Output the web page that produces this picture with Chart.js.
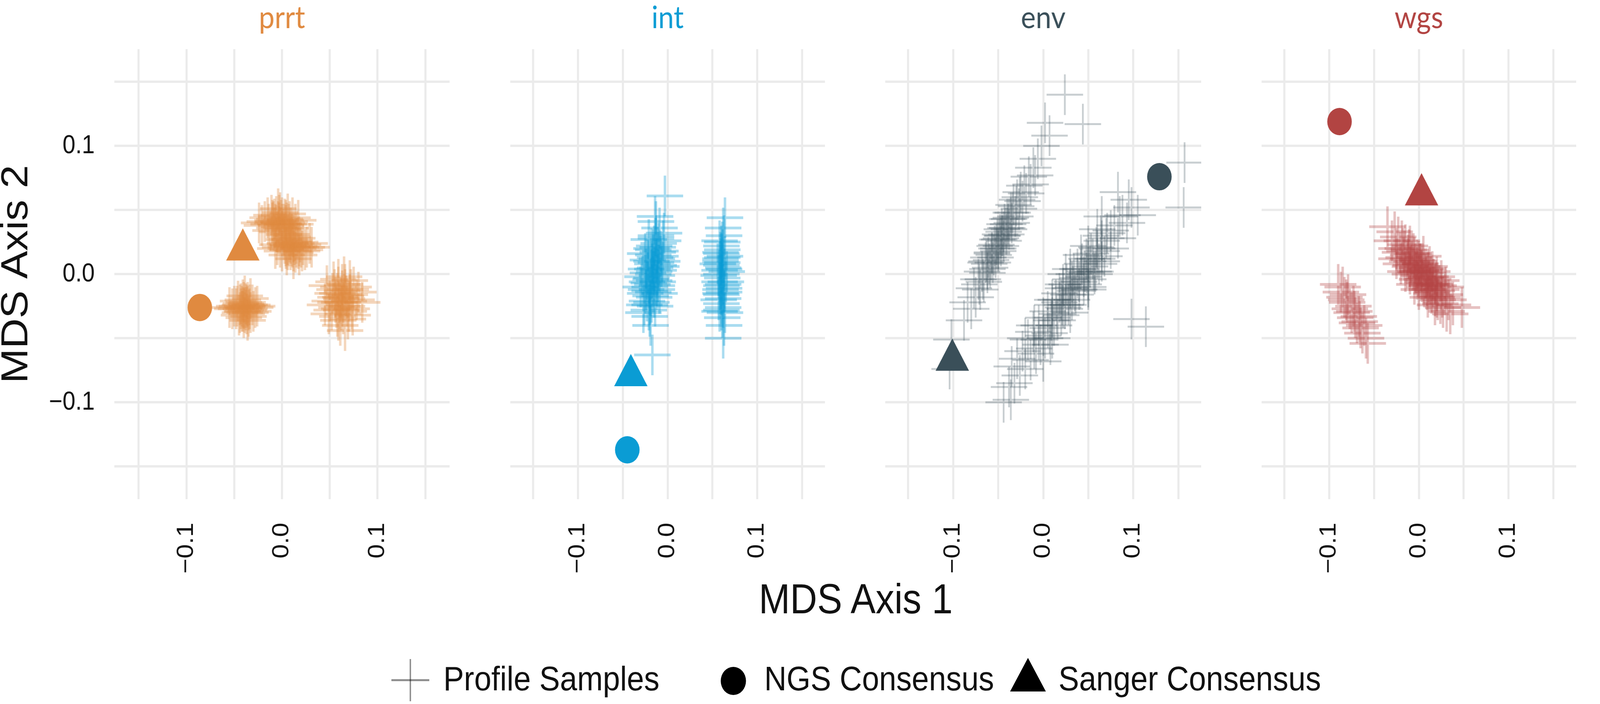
<!DOCTYPE html>
<html>
<head>
<meta charset="utf-8">
<script src="https://cdn.jsdelivr.net/npm/chart.js@4/dist/chart.umd.min.js"></script>
<style>
  html, body { margin: 0; padding: 0; background: #fff; overflow: hidden; }
  #stage { position: relative; width: 4562px; height: 1801px; transform-origin: 0 0;
           font-family: 'Liberation Sans', Arial, sans-serif; color: #111; background: #fff; }
  .panel { position: absolute; top: 0; height: 1480px; }
  #xTitle { position: absolute; left: 326px; width: 4228px; top: 1479px; text-align: center;
            font-size: 107px; line-height: 1; }
  .legText { position: absolute; top: 1692px; font-size: 88px; line-height: 1; white-space: nowrap; }
  .legKey { position: absolute; }
</style>
</head>
<body>
<div id="stage">
  <div class="panel" id="panel0" style="left:0px;width:1341px"><canvas></canvas></div>
  <div class="panel" id="panel1" style="left:1396px;width:1015px"><canvas></canvas></div>
  <div class="panel" id="panel2" style="left:2467px;width:1015px"><canvas></canvas></div>
  <div class="panel" id="panel3" style="left:3538px;width:1015px"><canvas></canvas></div>

  <div id="xTitle">MDS Axis 1</div>

  <svg class="legKey" style="left:1116px;top:1686px" width="108" height="108">
    <line x1="0" y1="54" x2="108" y2="54" stroke="rgba(0,0,0,0.45)" stroke-width="5"/>
    <line x1="54" y1="0" x2="54" y2="108" stroke="rgba(0,0,0,0.45)" stroke-width="4"/>
  </svg>
  <div class="legText" style="left:1264px">Profile Samples</div>
  <svg class="legKey" style="left:2054px;top:1705px" width="74" height="74">
    <circle cx="37" cy="37" r="36" fill="#000"/>
  </svg>
  <div class="legText" style="left:2179px">NGS Consensus</div>
  <svg class="legKey" style="left:2880px;top:1683px" width="102" height="86">
    <polygon points="51,0 102,86 0,86" fill="#000"/>
  </svg>
  <div class="legText" style="left:3018px">Sanger Consensus</div>
</div>

<script>
// the window may be narrower than the 4562px figure: squeeze horizontally to fit
const stage = document.getElementById('stage');
const sx = Math.min(1, window.innerWidth / 4562);
stage.style.transform = `scale(${sx}, 1)`;

// facets, left to right
const genes = ['prrt', 'int', 'env', 'wgs'];
const geneColors = ['#e08a40', '#0a9cd4', '#3a4f59', '#b24442'];

// consensus positions per facet
const ngsX = [-0.086, -0.045, 0.129, -0.0885];
const ngsY = [-0.026, -0.137, 0.076, 0.119];
const sangerX = [-0.041, -0.041, -0.101, 0.003];
const sangerY = [0.019, -0.079, -0.067, 0.062];

// axis breaks
const gridBreaks = [-0.15, -0.1, -0.05, 0, 0.05, 0.1, 0.15];
const tickValues = [-0.1, 0, 0.1];
const tickText = ['\u22120.1', '0.0', '0.1'];

// profile samples
const prrtSamples = [
  [-0.003,0.040],[-0.010,0.042],[0.004,0.038],[-0.006,0.045],[0.001,0.035],[-0.014,0.039],[0.008,0.041],
  [-0.002,0.048],[-0.008,0.036],[0.011,0.044],[-0.018,0.041],[0.003,0.043],[-0.005,0.033],[0.006,0.047],
  [-0.011,0.046],[0.000,0.039],[-0.021,0.038],[0.014,0.039],[-0.004,0.051],[-0.009,0.041],[0.002,0.031],
  [0.009,0.036],[-0.015,0.044],[-0.001,0.042],[0.005,0.040],[-0.007,0.039],[-0.012,0.034],[0.017,0.042],
  [-0.003,0.037],[-0.024,0.040],
  [-0.004,0.041],[0.002,0.039],[-0.008,0.043],[0.000,0.044],[-0.006,0.038],[0.004,0.042],[-0.001,0.036],
  [-0.010,0.040],[0.007,0.039],[-0.003,0.046],
  [0.010,0.022],[0.003,0.024],[0.017,0.020],[0.008,0.027],[0.014,0.017],[-0.002,0.021],[0.022,0.023],
  [0.006,0.019],[0.011,0.029],[0.019,0.025],[0.000,0.018],[0.013,0.023],[0.026,0.021],[0.005,0.015],
  [0.009,0.024],[0.016,0.028],[-0.005,0.023],[0.012,0.012],[0.021,0.018],[0.007,0.022],[0.029,0.024],
  [0.002,0.027],[0.015,0.021],[0.010,0.031],[-0.007,0.020],[0.018,0.015],[0.012,0.025],[0.024,0.019],
  [0.004,0.022],[0.031,0.021],
  [0.011,0.021],[0.006,0.023],[0.015,0.024],[0.009,0.019],[0.013,0.026],[0.004,0.020],[0.018,0.022],
  [0.008,0.025],[0.012,0.018],[0.020,0.021],
  [-0.039,-0.026],[-0.044,-0.024],[-0.034,-0.027],[-0.041,-0.020],[-0.037,-0.031],[-0.048,-0.027],
  [-0.031,-0.024],[-0.042,-0.029],[-0.036,-0.022],[-0.045,-0.032],[-0.028,-0.026],[-0.040,-0.034],
  [-0.050,-0.025],[-0.033,-0.019],[-0.038,-0.028],[-0.043,-0.023],[-0.035,-0.033],[-0.046,-0.021],
  [-0.030,-0.029],[-0.039,-0.017],[-0.052,-0.027],[-0.041,-0.026],[-0.036,-0.036],[-0.026,-0.025],
  [-0.044,-0.030],[-0.037,-0.024],[-0.033,-0.030],[-0.047,-0.025],[-0.040,-0.022],[-0.055,-0.026],
  [-0.040,-0.027],[-0.036,-0.025],[-0.042,-0.025],[-0.038,-0.023],[-0.041,-0.029],[-0.035,-0.028],
  [-0.043,-0.027],[-0.037,-0.026],[-0.039,-0.030],[-0.034,-0.024],
  [0.062,-0.019],[0.055,-0.012],[0.068,-0.025],[0.059,-0.004],[0.071,-0.016],[0.050,-0.021],[0.064,-0.031],
  [0.057,-0.026],[0.075,-0.010],[0.066,-0.008],[0.053,-0.015],[0.069,-0.035],[0.060,-0.022],[0.078,-0.020],
  [0.047,-0.009],[0.063,-0.013],[0.058,-0.033],[0.073,-0.027],[0.065,-0.002],[0.052,-0.028],[0.080,-0.014],
  [0.061,-0.040],[0.056,-0.018],[0.070,-0.021],[0.045,-0.024],[0.067,-0.017],[0.059,-0.010],[0.074,-0.032],
  [0.063,-0.025],[0.084,-0.022],[0.054,-0.006],[0.066,-0.044],[0.049,-0.031],[0.071,-0.005],[0.062,-0.028],
  [0.061,-0.018],[0.064,-0.022],[0.058,-0.015],[0.066,-0.012],[0.060,-0.027],[0.068,-0.019],[0.056,-0.022],
  [0.063,-0.008],[0.070,-0.029],[0.065,-0.016],[0.059,-0.036],[0.072,-0.012]
];

const intSamples = [
  [-0.016,0.000],[-0.012,0.012],[-0.020,-0.010],[-0.010,0.024],[-0.023,-0.021],[-0.014,0.005],[-0.019,-0.004],
  [-0.008,0.018],[-0.025,-0.015],[-0.013,0.030],[-0.021,-0.028],[-0.017,0.008],[-0.011,-0.006],[-0.028,-0.002],
  [-0.006,0.010],[-0.018,0.020],[-0.015,-0.018],[-0.024,0.004],[-0.009,0.036],[-0.020,-0.033],[-0.012,-0.012],
  [-0.026,-0.024],[-0.005,0.026],[-0.016,0.015],[-0.022,0.011],[-0.014,-0.025],[-0.010,0.003],[-0.030,-0.010],
  [-0.013,0.041],[-0.019,-0.040],[-0.007,0.006],[-0.023,-0.006],[-0.015,0.022],[-0.017,-0.008],[-0.011,0.017],
  [-0.027,-0.030],[-0.004,0.032],[-0.021,0.027],[-0.018,-0.022],[-0.012,-0.001],[-0.003,0.061],[-0.017,-0.063],
  [-0.025,0.016],[-0.009,-0.015],[-0.014,0.045],
  [-0.015,0.002],[-0.018,-0.003],[-0.013,0.009],[-0.020,-0.013],[-0.016,0.019],[-0.012,-0.009],[-0.022,0.001],
  [-0.014,0.013],[-0.019,-0.017],[-0.010,0.007],[-0.017,0.004],[-0.021,-0.007],[-0.011,0.021],[-0.024,-0.012],
  [-0.015,-0.005],[-0.008,0.014],[-0.018,0.010],[-0.020,-0.024],[-0.013,0.028],[-0.016,-0.014],
  [0.061,-0.003],[0.059,0.010],[0.063,-0.014],[0.060,0.022],[0.062,-0.026],[0.058,0.003],[0.064,0.014],
  [0.060,-0.009],[0.057,-0.020],[0.063,0.030],[0.061,-0.034],[0.059,0.017],[0.065,-0.006],[0.056,0.008],
  [0.062,0.005],[0.060,-0.016],[0.064,-0.030],[0.058,0.026],[0.061,0.013],[0.063,-0.040],[0.057,-0.001],
  [0.062,0.036],[0.060,-0.023],[0.066,0.002],[0.059,-0.012],[0.061,0.019],[0.064,0.044],[0.062,-0.050],
  [0.058,-0.029],[0.060,0.007],
  [0.060,0.000],[0.062,-0.008],[0.061,0.009],[0.059,-0.015],[0.063,0.004],[0.060,0.016],[0.062,-0.019],
  [0.058,-0.006],[0.061,0.025],[0.063,-0.011],[0.060,-0.028],[0.059,0.012]
];

const envSamples = [
  [-0.084,-0.022],[-0.080,-0.027],[-0.077,-0.011],[-0.075,-0.018],[-0.072,-0.004],[-0.070,-0.012],[-0.068,0.002],
  [-0.066,-0.006],[-0.064,0.009],[-0.062,0.001],[-0.061,0.013],[-0.059,0.005],[-0.057,0.017],[-0.056,0.009],
  [-0.054,0.022],[-0.053,0.013],[-0.051,0.027],[-0.050,0.018],[-0.048,0.031],[-0.047,0.022],[-0.046,0.035],
  [-0.044,0.026],[-0.043,0.039],[-0.041,0.031],[-0.040,0.043],[-0.038,0.035],[-0.036,0.048],[-0.035,0.040],
  [-0.033,0.054],[-0.031,0.045],[-0.029,0.058],[-0.027,0.051],[-0.025,0.064],[-0.023,0.057],[-0.021,0.069],
  [-0.019,0.063],[-0.016,0.076],[-0.014,0.070],[-0.011,0.083],[-0.009,0.077],[-0.006,0.090],[-0.052,0.020],
  [-0.045,0.030],[-0.039,0.039],[-0.060,0.008],
  [-0.049,0.027],[-0.055,0.015],[-0.042,0.036],[-0.058,0.011],[-0.046,0.030],[-0.062,0.004],[-0.038,0.043],
  [-0.052,0.023],[-0.067,-0.004],[-0.034,0.048],[-0.044,0.033],[-0.057,0.016],[-0.030,0.053],[-0.071,-0.008],
  [-0.040,0.036],[-0.050,0.020],[-0.026,0.060],[-0.063,0.010],[-0.047,0.028],[-0.036,0.044],
  [0.002,0.118],[0.007,0.108],[-0.002,0.100],[0.024,0.140],[0.044,0.117],[-0.102,-0.051],[-0.104,-0.074],
  [-0.088,-0.036],
  [-0.038,-0.088],[-0.035,-0.072],[-0.032,-0.085],[-0.029,-0.066],[-0.026,-0.079],[-0.023,-0.060],[-0.020,-0.074],
  [-0.017,-0.051],[-0.014,-0.067],[-0.011,-0.045],[-0.008,-0.062],[-0.005,-0.040],[-0.003,-0.055],[0.000,-0.034],
  [0.002,-0.050],[0.005,-0.029],[0.007,-0.046],[0.010,-0.024],[0.012,-0.040],[0.014,-0.020],[0.016,-0.036],
  [0.018,-0.015],[0.020,-0.032],[0.022,-0.011],[0.024,-0.027],[0.026,-0.008],[0.028,-0.024],[0.030,-0.004],
  [0.032,-0.020],[0.034,0.000],[0.036,-0.016],[0.038,0.004],[0.040,-0.012],[0.043,0.008],[0.045,-0.008],
  [0.048,0.012],[0.050,-0.004],[0.053,0.016],[0.056,0.002],[0.059,0.021],[0.062,0.008],[0.065,0.026],
  [0.068,0.014],[0.071,0.032],[0.075,0.020],[0.079,0.038],[0.083,0.028],[0.088,0.046],[0.093,0.040],
  [0.098,0.052],[0.021,-0.024],[0.009,-0.036],[-0.010,-0.058],[0.033,-0.010],[0.046,0.002],[0.060,0.012],
  [0.040,-0.006],[0.030,-0.011],[0.050,0.010],[0.025,-0.024],[0.045,-0.002],[0.020,-0.020],[0.055,0.012],
  [0.015,-0.031],[0.035,-0.013],[0.060,0.020],[0.010,-0.034],[0.048,0.001],[0.005,-0.042],[0.065,0.018],
  [0.028,-0.016],[0.070,0.028],[0.000,-0.048],[0.038,-0.003],[0.022,-0.026],[0.052,0.006],[-0.005,-0.051],
  [0.075,0.034],[0.042,0.004],[0.018,-0.022],[0.032,-0.006],[0.050,-0.012],[0.030,0.004],[0.010,-0.050],
  [0.064,0.030],[0.058,0.002],
  [0.025,0.000],[0.050,-0.010],[0.010,-0.020],[0.030,-0.030],[0.065,0.010],[0.042,0.015],[-0.010,-0.040],
  [0.008,-0.055],[0.085,0.045],[0.060,0.035],[0.000,-0.068],[-0.020,-0.050],[0.057,0.000],[0.050,0.022],
  [0.022,-0.008],[0.065,0.045],
  [-0.044,-0.100],[-0.036,-0.098],[0.114,-0.041],[0.098,-0.035],[0.083,0.064],[0.095,0.058],[0.105,0.046],
  [0.157,0.087],[0.156,0.052]
];

const wgsSamples = [
  [-0.030,0.026],[-0.027,0.033],[-0.025,0.020],[-0.023,0.029],[-0.021,0.017],[-0.019,0.026],[-0.017,0.013],
  [-0.015,0.023],[-0.013,0.010],[-0.011,0.019],[-0.009,0.007],[-0.008,0.016],[-0.006,0.004],[-0.005,0.013],
  [-0.003,0.001],[-0.002,0.011],[0.000,-0.001],[0.001,0.008],[0.003,-0.004],[0.004,0.006],[0.006,-0.007],
  [0.007,0.004],[0.009,-0.009],[0.010,0.001],[0.012,-0.012],[0.013,-0.002],[0.015,-0.014],[0.016,-0.004],
  [0.018,-0.017],[0.019,-0.007],[0.021,-0.020],[0.022,-0.009],[0.024,-0.023],[0.025,-0.012],[0.027,-0.026],
  [0.029,-0.016],[0.031,-0.029],[0.033,-0.020],[0.035,-0.031],[0.038,-0.024],[-0.012,0.015],[-0.004,0.008],
  [0.002,0.003],[0.008,-0.002],[0.014,-0.008],[0.020,-0.013],[-0.018,0.020],[0.026,-0.018],[-0.001,0.002],
  [0.011,-0.006],[-0.035,0.037],[0.048,-0.026],
  [0.003,0.002],[-0.002,0.005],[0.008,-0.003],[-0.008,0.010],[0.012,-0.008],[0.000,0.010],[0.006,-0.010],
  [-0.012,0.012],[0.016,-0.010],[-0.004,0.002],[0.010,0.004],[0.004,-0.006],[-0.016,0.018],[0.020,-0.018],
  [-0.006,0.016],[0.014,-0.015],[0.002,0.008],[0.009,-0.012],[-0.010,0.006],[0.018,-0.008],
  [-0.010,0.000],[0.000,-0.012],[0.015,0.002],[-0.020,0.008],[0.020,-0.002],[-0.005,-0.008],[0.025,-0.005],
  [-0.015,0.002],[0.010,-0.018],[0.005,0.014],[-0.025,0.012],[0.030,-0.010],[0.012,0.006],[-0.002,-0.004],
  [0.018,-0.024],[-0.010,0.022],
  [-0.090,-0.008],[-0.087,-0.014],[-0.085,-0.010],[-0.083,-0.018],[-0.080,-0.022],[-0.079,-0.016],[-0.077,-0.027],
  [-0.075,-0.030],[-0.073,-0.025],[-0.071,-0.034],[-0.069,-0.038],[-0.067,-0.033],[-0.065,-0.042],[-0.063,-0.046],
  [-0.061,-0.040],[-0.059,-0.050],[-0.057,-0.054],[-0.072,-0.029],[-0.066,-0.037],[-0.081,-0.020]
];

const samplesByGene = [prrtSamples, intSamples, envSamples, wgsSamples];
const sampleAlpha = [0.35, 0.35, 0.28, 0.33];
const sampleStroke = [7, 7, 5, 7];

Chart.defaults.font.family = "'Liberation Sans', Arial, sans-serif";
Chart.defaults.color = '#111';

function withAlpha(hex, a) {
  const n = parseInt(hex.slice(1), 16);
  return `rgba(${(n >> 16) & 255},${(n >> 8) & 255},${n & 255},${a})`;
}

function breakLabel(v) {
  const k = tickValues.findIndex(t => Math.abs(t - v) < 1e-9);
  return k < 0 ? '' : tickText[k];
}

function setBreaks(scale) {
  scale.ticks = gridBreaks.map(v => ({value: v}));
}

function makePanel(i) {
  const first = i === 0;
  const color = geneColors[i];
  const canvas = document.querySelector('#panel' + i + ' canvas');

  new Chart(canvas, {
    type: 'scatter',
    data: {
      datasets: [
        {
          label: 'Sanger Consensus',
          data: [{x: sangerX[i], y: sangerY[i]}],
          pointStyle: 'triangle', pointRadius: 55,
          backgroundColor: color, borderWidth: 0
        },
        {
          label: 'NGS Consensus',
          data: [{x: ngsX[i], y: ngsY[i]}],
          pointStyle: 'circle', pointRadius: 35,
          backgroundColor: color, borderWidth: 0
        },
        {
          label: 'Profile Samples',
          data: samplesByGene[i].map(p => ({x: p[0], y: p[1]})),
          pointStyle: 'cross', pointRadius: 52,
          borderColor: withAlpha(color, sampleAlpha[i]), borderWidth: sampleStroke[i],
          backgroundColor: 'transparent'
        }
      ]
    },
    options: {
      responsive: true,
      maintainAspectRatio: false,
      animation: false,
      events: [],
      layout: {padding: 0},
      plugins: {
        legend: {display: false},
        tooltip: {enabled: false},
        title: {
          display: true,
          text: genes[i],
          color: color,
          fullSize: false,
          font: {family: 'Lato', size: 80, weight: 'normal', lineHeight: 1},
          padding: {top: 6, bottom: 39.7}
        }
      },
      scales: {
        x: {
          type: 'linear', position: 'bottom',
          min: -0.1755, max: 0.1755,
          border: {display: false},
          grid: {color: '#ebebeb', lineWidth: 6, drawTicks: false},
          afterBuildTicks: setBreaks,
          ticks: {
            autoSkip: false, minRotation: 90, maxRotation: 90,
            padding: 60, font: {size: 66}, color: '#111',
            callback: v => breakLabel(v)
          },
          afterFit: s => { s.height = 203; s.paddingLeft = 0; s.paddingRight = 0; }
        },
        y: {
          type: 'linear', position: 'left',
          min: -0.1755, max: 0.1755,
          border: {display: false},
          grid: {color: '#ebebeb', lineWidth: 6, drawTicks: false},
          afterBuildTicks: setBreaks,
          ticks: {
            display: first, padding: 56, font: {size: 66}, color: '#111',
            callback: v => breakLabel(v)
          },
          title: {
            display: first, text: 'MDS Axis 2', color: '#111',
            font: {size: 107, lineHeight: 0.9}, padding: {top: 0, bottom: 0}
          },
          afterFit: s => { s.width = first ? 326 : 0; s.paddingTop = 0; s.paddingBottom = 0; }
        }
      }
    }
  });
}

genes.forEach((g, i) => makePanel(i));
</script>
</body>
</html>
